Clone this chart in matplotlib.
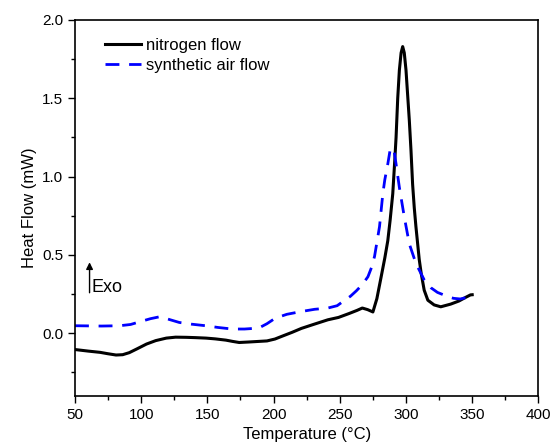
import matplotlib.pyplot as plt
from matplotlib.ticker import MultipleLocator

plt.rcParams["font.family"] = ["Liberation Sans", "DejaVu Sans"]

# nitrogen flow (black, solid)
n2_temp = [50, 60, 69, 75, 81, 86, 91, 97, 104, 111, 119, 126, 134, 141, 149, 156,
           164, 169, 174, 181, 189, 195, 201, 207, 214, 221, 230, 241, 249, 257,
           263, 267, 271, 275, 278, 281.25, 284, 286.25, 288, 290, 291.5, 292.5,
           293.75, 295, 296.3, 297.5, 298.7, 300, 301.25, 302.5, 303.75, 305, 306.25,
           307.5, 310, 311.5, 313.75, 316.5, 321.25, 326.25, 333.7, 340, 345, 348.7,
           350]
n2_flow = [-0.105, -0.115, -0.123, -0.132, -0.14, -0.138, -0.125, -0.10, -0.07, -0.048,
           -0.032, -0.026, -0.027, -0.029, -0.032, -0.037, -0.045, -0.053, -0.060,
           -0.057, -0.053, -0.050, -0.038, -0.018, 0.005, 0.03, 0.055, 0.085, 0.10,
           0.125, 0.145, 0.16, 0.15, 0.135, 0.22, 0.36, 0.48, 0.59, 0.72, 0.89, 1.10,
           1.25, 1.50, 1.68, 1.79, 1.83, 1.79, 1.68, 1.52, 1.36, 1.17, 0.95, 0.80,
           0.68, 0.47, 0.38, 0.274, 0.21, 0.18, 0.168, 0.185, 0.205, 0.228, 0.244,
           0.245]

# synthetic air flow (blue, dashed)
air_temp = [50, 70, 83.75, 92, 100, 107, 113.75, 120, 128.75, 138, 148.75, 158,
            168.75, 178, 188.75, 195, 201.25, 210, 221, 231, 241, 248, 253.75, 258,
            262.5, 267, 271.25, 274, 276.25, 280, 282.5, 284, 286.25, 288, 290.7,
            292.5, 295, 298.75, 302.5, 307.5, 313.75, 318.75, 323.75, 332.5, 336,
            341, 346, 350]
air_flow = [0.047, 0.045, 0.047, 0.055, 0.075, 0.092, 0.104, 0.09, 0.068, 0.057,
            0.047, 0.036, 0.026, 0.026, 0.032, 0.06, 0.095, 0.12, 0.138, 0.152,
            0.16, 0.175, 0.21, 0.235, 0.27, 0.31, 0.36, 0.42, 0.49, 0.68, 0.89,
            0.98, 1.08, 1.17, 1.18, 1.08, 0.93, 0.74, 0.57, 0.445, 0.34, 0.29,
            0.26, 0.23, 0.222, 0.218, 0.228, 0.244]

fig = plt.figure(figsize=(5.53, 4.48), dpi=100)
ax = fig.add_axes([0.1356, 0.1167, 0.838, 0.8387])

ax.plot(n2_temp, n2_flow, color="black", lw=2.2, label="nitrogen flow")
ax.plot(air_temp, air_flow, color="#0000ff", lw=2.0, ls=(0, (5, 3.5)),
        label="synthetic air flow")

ax.set_xlim(50, 400)
ax.set_ylim(-0.4, 2.0)
ax.xaxis.set_major_locator(MultipleLocator(50))
ax.xaxis.set_minor_locator(MultipleLocator(25))
ax.yaxis.set_major_locator(MultipleLocator(0.5))
ax.yaxis.set_minor_locator(MultipleLocator(0.25))
ax.tick_params(which="both", direction="out", top=False, right=False, labelsize=11)
ax.tick_params(which="major", length=5, width=1)
ax.tick_params(which="minor", length=3, width=1)
for s in ax.spines.values():
    s.set_linewidth(1.2)

ax.set_xlabel("Temperature (°C)", fontsize=12)
ax.set_ylabel("Heat Flow (mW)", fontsize=12)

ax.annotate("", xy=(61, 0.47), xytext=(61, 0.24),
            arrowprops=dict(arrowstyle="-|>", color="black", lw=1, mutation_scale=10))
ax.text(62.3, 0.29, "Exo", fontsize=13, va="center", ha="left")

ax.legend(loc="upper left", bbox_to_anchor=(0.05, 0.97), frameon=False,
          fontsize=12, handlelength=2.2, handletextpad=0.3, labelspacing=0.3,
          borderaxespad=0)

fig.savefig("out.png", dpi=100)
